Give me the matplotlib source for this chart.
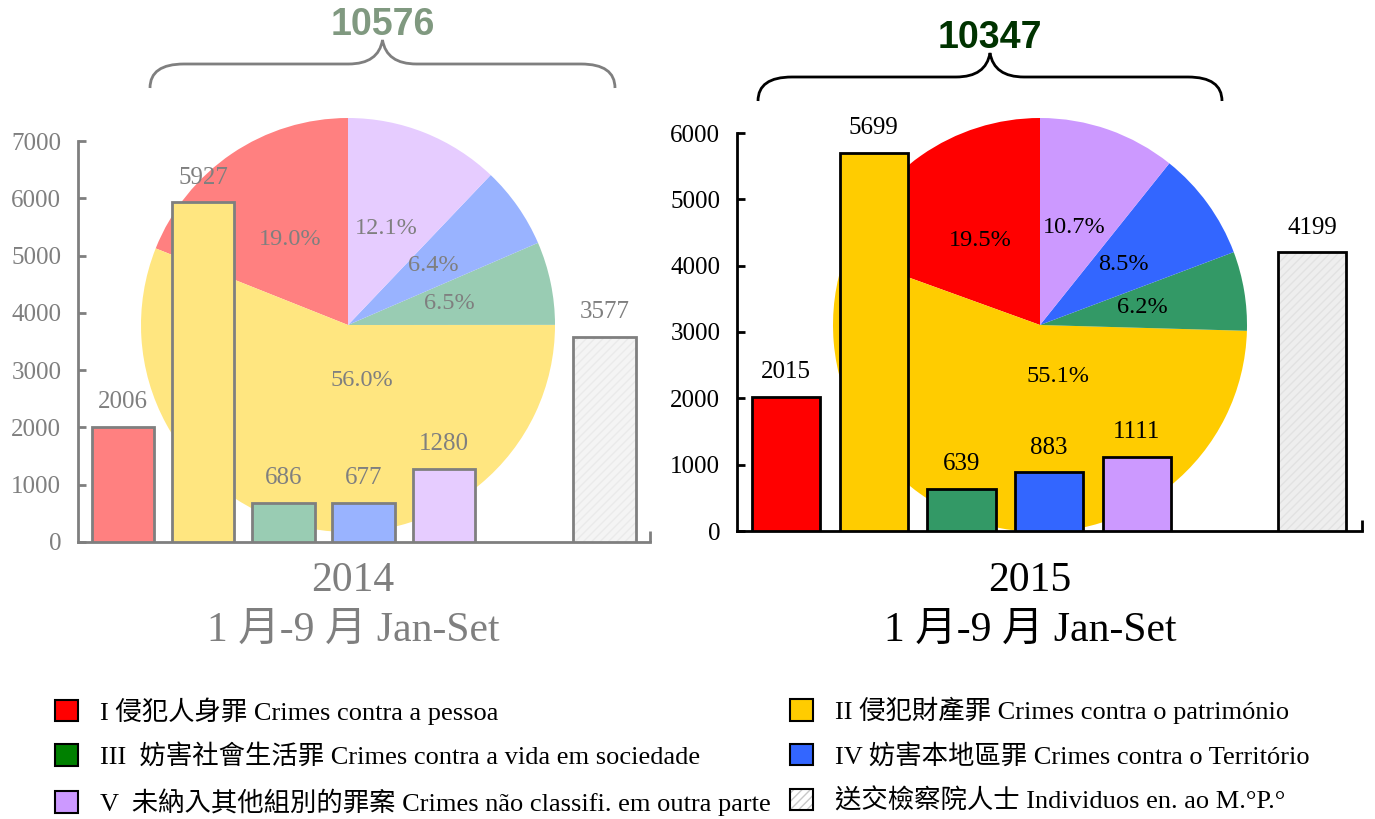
import matplotlib
matplotlib.use('Agg')
import matplotlib.pyplot as plt
from matplotlib.patches import Patch, PathPatch
from matplotlib.path import Path
from matplotlib.colors import to_rgb
from matplotlib.legend_handler import HandlerTuple

plt.rcParams['font.family'] = ['Liberation Serif', 'Noto Sans CJK TC']

# ---------------- data ----------------
years = ['2014', '2015']
period_label = '1 月-9 月 Jan-Set'
crime_groups = ['I', 'II', 'III', 'IV', 'V']
crimes_2014 = [2006, 5927, 686, 677, 1280]
crimes_2015 = [2015, 5699, 639, 883, 1111]
mp_2014 = 3577
mp_2015 = 4199
group_colors = ['#FF0000', '#FFCC00', '#339966', '#3366FF', '#CC99FF']
mp_color = '#EEEEEE'
legend_labels = [
    'I 侵犯人身罪 Crimes contra a pessoa',
    'II 侵犯財產罪 Crimes contra o património',
    'III  妨害社會生活罪 Crimes contra a vida em sociedade',
    'IV 妨害本地區罪 Crimes contra o Território',
    'V  未納入其他組別的罪案 Crimes não classifi. em outra parte',
    '送交檢察院人士 Individuos en. ao M.°P.°',
]
legend_colors = ['#FF0000', '#FFCC00', '#008000', '#3366FF', '#CC99FF', '#FFFFFF']
yticks_2014 = [0, 1000, 2000, 3000, 4000, 5000, 6000, 7000]
yticks_2015 = [0, 1000, 2000, 3000, 4000, 5000, 6000]

W, H = 1375, 819
fig = plt.figure(figsize=(W / 100, H / 100), dpi=100)


def fx(px):
    return px / W


def fy(py):
    return 1 - py / H


def fade(c, a=0.5):
    r, g, b = to_rgb(c)
    return (1 - a * (1 - r), 1 - a * (1 - g), 1 - a * (1 - b))


def brace(x0, x1, yend, yh, ytip, color):
    xm = (x0 + x1) / 2
    rx = 34
    pts = [(x0, yend), (x0, yh), (x0 + rx, yh), (xm - rx, yh), (xm - 4, yh), (xm, ytip),
           (xm + 4, yh), (xm + rx, yh), (x1 - rx, yh), (x1, yh), (x1, yend)]
    codes = [Path.MOVETO, Path.CURVE3, Path.CURVE3, Path.LINETO, Path.CURVE3, Path.CURVE3,
             Path.CURVE3, Path.CURVE3, Path.LINETO, Path.CURVE3, Path.CURVE3]
    verts = [(fx(x), fy(y)) for x, y in pts]
    fig.add_artist(PathPatch(Path(verts, codes), transform=fig.transFigure,
                             facecolor='none', edgecolor=color, lw=2))


def panel(vals, mp, bar_rect, pie_rect, yticks, faded, yellow_pos, xc, brace_geo, total_color):
    tc = '#7F7F7F' if faded else 'black'
    ec = '#7F7F7F' if faded else 'black'
    cols = [fade(c) for c in group_colors] if faded else group_colors
    gcol = '#F4F4F4' if faded else mp_color
    hcol = '#EAEAEA' if faded else '#E2E2E2'

    # pie behind
    axp = fig.add_axes(pie_rect, zorder=0)
    wedges, texts, autot = axp.pie(vals, colors=cols, startangle=90, counterclock=True,
                                   radius=1, autopct='%1.1f%%', pctdistance=0.5,
                                   textprops=dict(fontsize=17.5, color=tc),
                                   wedgeprops=dict(linewidth=0))
    autot[1].set_position(yellow_pos)
    axp.set_xlim(-1, 1)
    axp.set_ylim(-1, 1)
    axp.set_aspect('auto')
    axp.axis('off')

    # bars
    ax = fig.add_axes(bar_rect, zorder=1)
    ax.patch.set_alpha(0)
    xs = list(range(len(vals)))
    ax.bar(xs, vals, width=0.78, color=cols, edgecolor=ec, linewidth=2, zorder=3)
    ax.bar([6], [mp], width=0.78, color=gcol, edgecolor=hcol, hatch='////',
           linewidth=0, zorder=3)
    ax.bar([6], [mp], width=0.78, color='none', edgecolor=ec, linewidth=2, zorder=4)
    for x, v in zip(xs + [6], list(vals) + [mp]):
        ax.annotate(f'{v}', (x, v), xytext=(0, 10), textcoords='offset points',
                    ha='center', va='bottom', fontsize=18, color=tc)
    ax.set_xlim(-0.56, 6.57)
    ax.set_ylim(0, yticks[-1])
    ax.set_yticks(yticks)
    ax.set_xticks([6.57])
    ax.set_xticklabels([''])
    ax.tick_params(axis='y', direction='in', length=6, width=2, colors=ec,
                   labelcolor=tc, labelsize=18, pad=12)
    ax.tick_params(axis='x', direction='in', length=8, width=2, colors=ec)
    for s in ['top', 'right']:
        ax.spines[s].set_visible(False)
    for s in ['left', 'bottom']:
        ax.spines[s].set_linewidth(2)
        ax.spines[s].set_color(ec)

    # captions
    fig.text(fx(xc), fy(581), years[0] if faded else years[1], fontsize=30,
             ha='center', va='center', color=tc)
    fig.text(fx(xc), fy(631), period_label, fontsize=30, ha='center', va='center', color=tc)

    # brace + total
    x0, x1, yend, yh, ytip, ytext = brace_geo
    brace(x0, x1, yend, yh, ytip, ec)
    fig.text(fx((x0 + x1) / 2), fy(ytext), f'{sum(vals)}', fontsize=27, fontweight='bold',
             family='Liberation Sans', ha='center', va='center', color=total_color)


panel(crimes_2014, mp_2014,
      [fx(78), fy(542), fx(650) - fx(78), fy(141) - fy(542)],
      [fx(141), fy(532), fx(414), 414 / H],
      yticks_2014, True, (0.068, -0.27), 353,
      (150, 615, 88, 64, 40, 25), fade('#003300'))

panel(crimes_2015, mp_2015,
      [fx(737), fy(531), fx(1362) - fx(737), fy(133) - fy(531)],
      [fx(833), fy(532), fx(414), 414 / H],
      yticks_2015, False, (0.087, -0.25), 1030,
      (758, 1222, 101, 77, 53, 38), '#003300')

# legend
handles = []
for c in legend_colors[:5]:
    handles.append(Patch(facecolor=c, edgecolor='black', linewidth=1.5))
handles.append((Patch(facecolor='white', edgecolor='#C8C8C8', hatch='////', linewidth=0),
                Patch(facecolor='none', edgecolor='black', linewidth=1.5)))
common = dict(frameon=False, fontsize=19, handlelength=0.87, handleheight=0.87,
              handletextpad=0.85, labelspacing=0.74, borderpad=0, borderaxespad=0,
              loc='upper left', handler_map={tuple: HandlerTuple(ndivide=1)})
leg1 = fig.legend([handles[0], handles[2], handles[4]],
                  [legend_labels[0], legend_labels[2], legend_labels[4]],
                  bbox_to_anchor=(fx(55), fy(697)), **common)
leg2 = fig.legend([handles[1], handles[3], handles[5]],
                  [legend_labels[1], legend_labels[3], legend_labels[5]],
                  bbox_to_anchor=(fx(790), fy(697)), **common)

fig.savefig('out.png', dpi=100)
